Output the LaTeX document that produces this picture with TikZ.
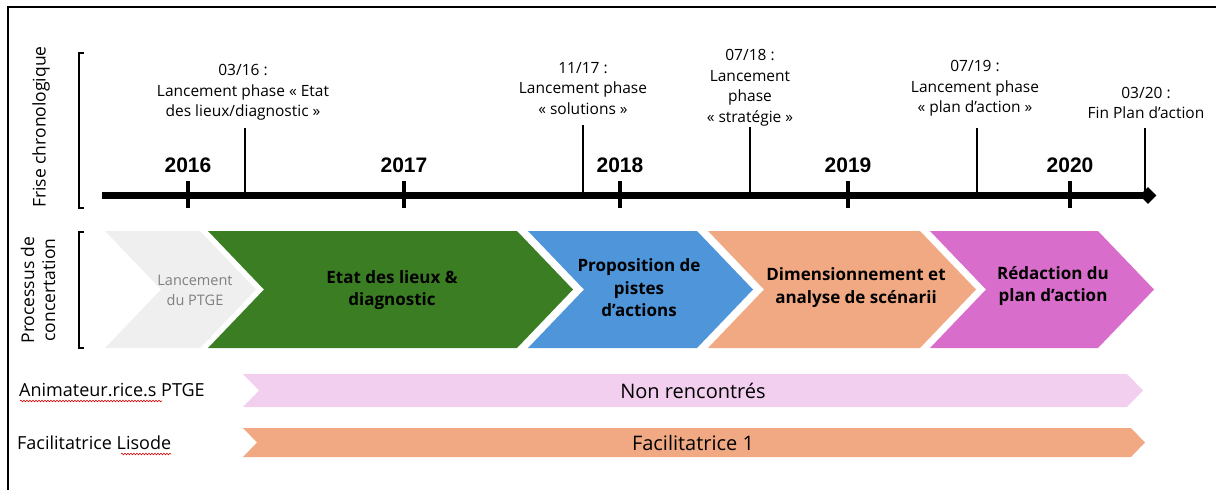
\documentclass[tikz,border=0pt]{standalone}
\usepackage{fontspec}
\setmainfont{Open Sans}
\newfontfamily\yearfont{Liberation Sans}
\usepackage{tikz}
\usetikzlibrary{shapes.geometric, decorations.pathmorphing, positioning}
\definecolor{chgray}{HTML}{EFEFEF}
\definecolor{chtext}{HTML}{808080}
\definecolor{chgreen}{HTML}{3B7D23}
\definecolor{chblue}{HTML}{4E95D9}
\definecolor{chorange}{HTML}{F1A983}
\definecolor{chmagenta}{HTML}{D86DCB}
\definecolor{barpink}{HTML}{F2CEEF}

\begin{document}
\begin{tikzpicture}[x=1pt, y=-1pt,
  every node/.style={inner sep=0pt},
  evlab/.style={align=center, font=\fontsize{15.5}{20.5}\selectfont},
  yearlab/.style={font=\yearfont\bfseries\fontsize{21}{25}\selectfont},
  sidelab/.style={rotate=90, align=center, font=\fontsize{17.5}{21}\selectfont},
  rowlab/.style={anchor=west, font=\fontsize{18}{21}\selectfont},
  chevlab/.style={align=center, font=\bfseries\fontsize{17}{22.5}\selectfont},
  barlab/.style={font=\fontsize{20}{24}\selectfont},
  axis/.style={line width=6.5pt},
  yeartick/.style={line width=4pt},
  evline/.style={line width=1.6pt},
  brace/.style={line width=1.5pt},
  spell/.style={red!85!black, line width=0.6pt, decorate,
    decoration={snake, amplitude=0.8pt, segment length=3pt}}
]
\useasboundingbox (0,0) rectangle (1216,490);
\draw[line width=2pt] (8,490) -- (8,7) -- (1216,7);

% side labels and brackets
\node[sidelab] (frise) at (41,127) {Frise chronologique};
\node[sidelab] (proc) at (38,290) {Processus de\\concertation};
\draw[brace] (84,53) -- (79,53) -- (79,208) -- (84,208);
\draw[brace] (84,232) -- (79,232) -- (79,348) -- (84,348);

% time axis
\coordinate (axstart) at (102,195.5);
\node[diamond, fill=black, minimum width=17pt, minimum height=17pt] (axend) at (1148,195.5) {};
\draw[axis] (axstart) -- (axend.center);
\foreach \x/\yr in {188/2016, 404/2017, 620/2018, 848/2019, 1070/2020}{
  \draw[yeartick] (\x,181) -- (\x,208);
  \node[yearlab] (y\yr) at (\x,165.5) {\yr};
}

% events
\coordinate (e1) at (245,128);
\coordinate (e2) at (583,125);
\coordinate (e3) at (750,127);
\coordinate (e4) at (977,128);
\coordinate (e5) at (1145,128);
\foreach \e in {e1,e2,e3,e4,e5}
  \draw[evline] (\e) -- (\e |- axstart);
\node[evlab] (l1) at (243,92.5) {03/16 :\\Lancement phase « Etat\\des lieux/diagnostic »};
\node[evlab] (l2) at (583,88.5) {11/17 :\\Lancement phase\\« solutions »};
\node[evlab] (l3) at (750,87.5) {07/18 :\\Lancement\\phase\\« stratégie »};
\node[evlab] (l4) at (975,88.5) {07/19 :\\Lancement phase\\« plan d’action »};
\node[evlab] (l5) at (1146,103) {03/20 :\\Fin Plan d’action};

% process chevrons
\fill[chgray] (105,231) -- (200,231) -- (256,289.5) -- (200,348) -- (105,348) -- (161,289.5) -- cycle;
\fill[chgreen] (208,231) -- (517,231) -- (573,289.5) -- (517,348) -- (208,348) -- (264,289.5) -- cycle;
\fill[chblue] (528,231) -- (697,231) -- (753,289.5) -- (697,348) -- (528,348) -- (584,289.5) -- cycle;
\fill[chorange] (708,231) -- (920,231) -- (976,289.5) -- (920,348) -- (708,348) -- (764,289.5) -- cycle;
\fill[chmagenta] (930,231) -- (1098,231) -- (1154,289.5) -- (1098,348) -- (930,348) -- (986,289.5) -- cycle;
\node[align=center, text=chtext, font=\fontsize{14.5}{20}\selectfont] (c1) at (195,290) {Lancement\\du PTGE};
\node[chevlab] (c2) at (392,290) {Etat des lieux \&\\diagnostic};
\node[chevlab] (c3) at (639,288) {Proposition de\\pistes\\d’actions};
\node[chevlab] (c4) at (856,287.5) {Dimensionnement et\\analyse de scénarii};
\node[chevlab] (c5) at (1053,286) {Rédaction du\\plan d’action};

% actors
\node[rowlab] (anim) at (19,390) {Animateur.rice.s PTGE};
\node[rowlab] (facil) at (17,443) {Facilitatrice Lisode};
\draw[spell] (20,401) -- (162,401);
\draw[spell] (121,454) -- (171,454);
\fill[barpink] (243,374) -- (1127,374) -- (1143,390.5) -- (1127,407) -- (243,407) -- (259,390.5) -- cycle;
\fill[chorange] (243,428) -- (1131,428) -- (1145,442.5) -- (1131,457) -- (243,457) -- (257,442.5) -- cycle;
\node[barlab] (nonr) at (693,391) {Non rencontrés};
\node[barlab] (fac1) at (693,443) {Facilitatrice 1};
\end{tikzpicture}
\end{document}
